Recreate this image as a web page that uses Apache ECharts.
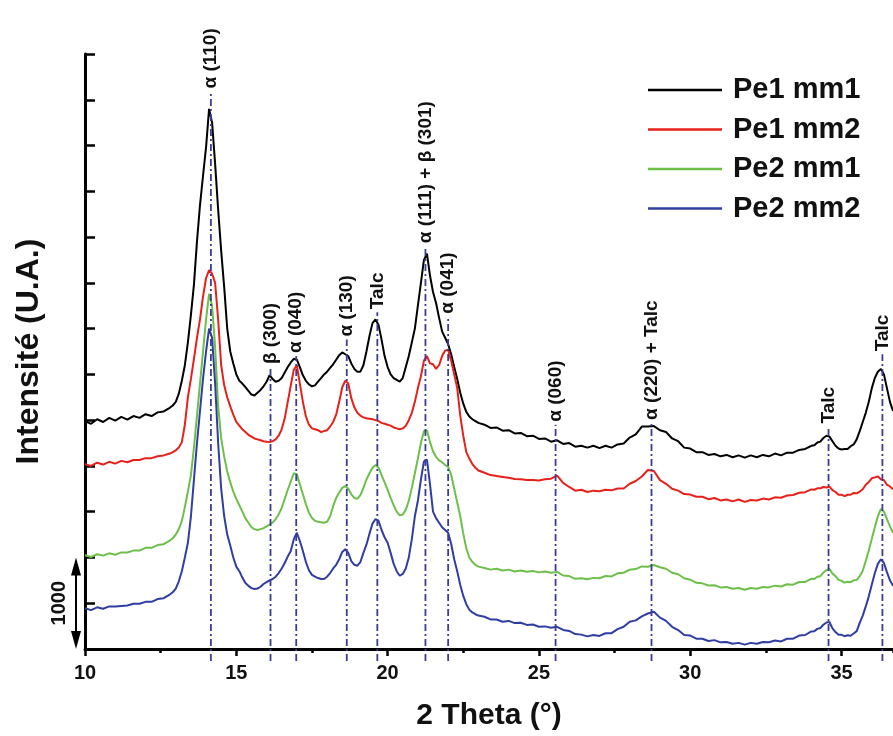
<!DOCTYPE html>
<html><head><meta charset="utf-8">
<script src="https://cdn.jsdelivr.net/npm/echarts@6/dist/echarts.min.js"></script>
<style>html,body{margin:0;padding:0;background:#fff}#c{width:893px;height:736px}</style>
</head><body><div id="c"></div>
<script>
// 2-theta grid (degrees)
const theta = [
 10.0,10.2,10.4,10.6,10.8,11.0,11.2,11.4,11.6,11.8,
 12.0,12.2,12.4,12.6,12.8,
 12.9,13.0,13.1,13.2,13.3,13.4,13.5,13.6,13.7,13.8,
 13.9,14.0,14.1,14.2,14.3,14.4,14.5,14.6,14.7,14.8,
 14.9,15.0,15.1,15.2,15.3,15.4,15.5,15.6,15.7,15.8,
 15.9,16.0,16.1,16.2,16.3,16.4,16.5,16.6,16.7,16.8,
 16.9,17.0,17.1,17.2,17.3,17.4,17.5,17.6,17.7,17.8,
 17.9,18.0,18.1,18.2,18.3,18.4,18.5,18.6,18.7,18.8,
 18.9,19.0,19.1,19.2,19.3,19.4,19.5,19.6,19.7,19.8,
 19.9,20.0,20.1,20.2,20.3,20.4,20.5,20.6,20.7,20.8,
 20.9,21.0,21.1,21.2,21.3,21.4,21.5,21.6,21.7,21.8,
 21.9,22.0,22.1,22.2,22.3,22.4,22.5,22.6,22.7,22.8,
 22.9,23.0,
 23.2,23.4,23.6,23.8,24.0,24.2,24.4,24.6,24.8,25.0,
 25.2,25.4,25.6,25.8,26.0,26.2,26.4,26.6,26.8,27.0,
 27.2,27.4,27.6,27.8,28.0,28.2,28.4,28.6,28.8,29.0,
 29.2,29.4,29.6,29.8,30.0,30.2,30.4,30.6,30.8,31.0,
 31.2,31.4,31.6,31.8,32.0,32.2,32.4,32.6,32.8,33.0,
 33.2,33.4,33.6,33.8,34.0,
 34.1,34.2,34.3,34.4,34.5,34.6,34.7,34.8,34.9,35.0,
 35.1,35.2,35.3,35.4,35.5,35.6,35.7,35.8,35.9,36.0,
 36.1,36.2,36.3,36.4,36.5,36.6,36.7
];
const pe1mm1 = [
 2490,2460,2510,2480,2525,2495,2535,2505,2545,2525,
 2565,2545,2585,2595,2635,
 2660,2700,2790,2930,3100,3350,3650,3980,4450,4850,
 5170,5480,5900,5750,5300,4800,4350,3950,3500,3250,
 3120,3000,2930,2900,2860,2820,2780,2770,2800,2830,
 2870,2920,2990,2950,2920,2930,2960,3020,3080,3130,
 3170,3160,3080,2990,2930,2890,2870,2880,2920,2960,
 3000,3030,3070,3110,3160,3210,3240,3220,3200,3120,
 3060,3030,3030,3100,3250,3420,3560,3600,3540,3380,
 3200,3080,3000,2960,2940,2920,2960,3080,3200,3350,
 3500,3750,4000,4250,4320,4080,3900,3780,3620,3470,
 3400,3330,3220,3080,2950,2800,2680,2590,2540,2510,
 2490,2470,
 2450,2415,2420,2385,2390,2355,2360,2325,2330,2295,
 2300,2265,2280,2240,2250,2210,2220,2200,2220,2195,
 2220,2200,2235,2245,2310,2345,2430,2430,2435,2390,
 2370,2300,2270,2200,2190,2150,2150,2120,2130,2105,
 2120,2095,2115,2090,2115,2095,2120,2105,2135,2115,
 2145,2145,2175,2185,2220,
 2225,2255,2265,2305,2330,2320,2270,2220,2190,2180,
 2185,2185,2215,2235,2290,2380,2480,2580,2700,2850,
 2960,3030,3060,3000,2850,2700,2600
];
const pe1mm2 = [
 2020,2000,2035,2015,2045,2025,2055,2040,2065,2065,
 2085,2085,2105,2115,2135,
 2150,2170,2200,2260,2450,2750,2950,3170,3400,3600,
 3850,4050,4140,4100,4000,3600,3100,2880,2750,2650,
 2560,2480,2440,2400,2370,2340,2320,2300,2290,2280,
 2270,2265,2260,2270,2290,2330,2400,2520,2700,2880,
 3050,3100,2900,2700,2540,2450,2410,2400,2390,2370,
 2380,2390,2430,2480,2560,2700,2860,2930,2900,2740,
 2640,2580,2550,2530,2520,2515,2510,2500,2490,2470,
 2460,2450,2440,2420,2410,2400,2410,2440,2500,2580,
 2700,2850,2980,3150,3200,3120,3110,3060,3100,3200,
 3260,3270,3150,3000,2850,2550,2330,2150,2080,2020,
 1980,1950,
 1925,1900,1890,1880,1870,1857,1855,1847,1845,1840,
 1855,1860,1895,1815,1770,1730,1740,1715,1730,1723,
 1740,1733,1753,1753,1805,1835,1885,1955,1945,1845,
 1805,1750,1730,1693,1687,1663,1663,1637,1649,1623,
 1633,1613,1633,1607,1627,1623,1643,1633,1657,1653,
 1677,1683,1707,1713,1743,
 1740,1755,1755,1770,1765,1775,1735,1715,1685,1685,
 1670,1685,1685,1705,1700,1720,1745,1795,1825,1865,
 1875,1885,1855,1845,1795,1775,1745
];
const pe2mm1 = [
 1025,1005,1035,1020,1045,1030,1055,1055,1075,1075,
 1105,1105,1135,1145,1185,
 1210,1250,1310,1400,1550,1720,1900,2200,2550,2900,
 3250,3600,3880,3750,3300,2650,2300,2100,1940,1820,
 1720,1640,1570,1500,1430,1380,1330,1310,1300,1310,
 1320,1340,1360,1380,1420,1470,1540,1640,1740,1830,
 1920,1910,1800,1690,1580,1490,1430,1400,1390,1385,
 1380,1390,1450,1560,1650,1710,1760,1780,1750,1690,
 1650,1640,1680,1760,1850,1920,1980,2010,1980,1900,
 1820,1740,1650,1570,1500,1460,1470,1520,1620,1760,
 1920,2080,2250,2380,2390,2260,2160,2100,2060,2040,
 2010,1990,1900,1750,1600,1450,1260,1100,1000,950,
 920,900,
 885,867,877,857,867,847,857,843,852,837,
 847,833,842,803,797,767,772,763,777,773,
 797,793,827,833,867,873,902,898,917,893,
 877,833,817,773,757,723,717,693,697,673,
 677,658,667,648,667,658,677,673,692,683,
 707,703,732,733,767,
 765,790,795,835,860,875,825,795,755,745,
 725,735,730,750,755,795,855,965,1075,1205,
 1330,1450,1530,1500,1420,1340,1270
];
const pe2mm2 = [
 445,425,455,440,465,465,470,475,495,495,
 515,515,545,555,595,
 620,660,740,850,1000,1160,1450,1850,2250,2600,
 2950,3250,3500,3400,2900,2250,1750,1450,1250,1130,
 1000,900,850,780,720,690,665,655,660,680,
 710,730,750,765,790,830,880,940,1010,1070,
 1200,1270,1180,1070,950,860,810,790,775,765,
 765,790,830,880,920,980,1060,1090,1050,960,
 920,910,950,1050,1140,1260,1370,1420,1400,1300,
 1220,1160,1050,930,850,800,820,880,1000,1200,
 1450,1620,1850,2050,2070,1800,1500,1430,1380,1330,
 1300,1270,1150,980,850,700,580,490,430,400,
 380,365,
 352,323,322,298,307,283,287,263,267,243,
 247,233,242,208,197,163,157,138,152,143,
 172,173,217,243,297,313,357,388,407,343,
 307,243,207,153,147,113,112,88,97,73,
 77,58,67,48,67,58,77,73,92,83,
 112,113,147,153,192,
 195,220,230,265,290,295,225,185,155,155,
 140,150,145,170,195,285,365,465,575,705,
 830,930,980,940,840,750,690
];
const seriesNames = ['Pe1 mm1', 'Pe1 mm2', 'Pe2 mm1', 'Pe2 mm2'];
const seriesValues = [pe1mm1, pe1mm2, pe2mm1, pe2mm2];
const seriesColors = ['#000000', '#e8201a', '#6cc04a', '#2f3ea0'];

// x axis range and ticks
const xMin = 10, xMax = 36.7, xMajor = 5, xMinor = 2.5;

// peak reflections
const peakTheta  = [14.16, 16.13, 16.98, 18.65, 19.66, 21.25, 22.0, 25.55, 28.72, 34.57, 36.35];
const peakLabels = ['α (110)', 'β (300)', 'α (040)', 'α (130)', 'Talc', 'α (111) + β (301)', 'α (041)', 'α (060)', 'α (220) + Talc', 'Talc', 'Talc'];
const peakTop    = [6090, 3080, 3200, 3380, 3680, 4400, 3630, 2450, 2470, 2430, 3220];

// scale bar (intensity units)
const scaleBar = [0, 1000];
const scaleLabel = '1000';

const FONT = "'Liberation Sans', Arial, sans-serif";
const LINE_BOTTOM = -130;

const chart = echarts.init(document.getElementById('c'), null, {renderer: 'canvas'});

function renderPeak(params, api) {
  const x = api.value(0), top = api.value(1);
  const p0 = api.coord([x, LINE_BOTTOM]);
  const p1 = api.coord([x, top]);
  return {
    type: 'group',
    children: [
      {type: 'line', shape: {x1: p0[0], y1: p0[1], x2: p1[0], y2: p1[1]},
       style: {stroke: '#3c3c96', lineWidth: 1.8, lineDash: [7, 3, 2, 3]}},
      {type: 'text', x: p1[0], y: p1[1] - 3, rotation: Math.PI / 2,
       style: {text: peakLabels[params.dataIndex], fontSize: 19, fontWeight: 'bold', fontFamily: FONT,
               fill: '#111', align: 'left', verticalAlign: 'middle'}}
    ]
  };
}

const series = seriesNames.map((n, k) => ({
  name: n, type: 'line', showSymbol: false, symbol: 'none',
  data: theta.map((t, i) => [t, seriesValues[k][i]]),
  lineStyle: {color: seriesColors[k], width: 2},
  itemStyle: {color: seriesColors[k]},
  z: 2
}));
series.push({
  type: 'custom', renderItem: renderPeak, clip: false, silent: true, z: 5,
  data: peakTheta.map((t, i) => [t, peakTop[i]]),
  encode: {x: 0, y: 1}
});

chart.setOption({
  animation: false,
  backgroundColor: '#ffffff',
  grid: {left: 85, right: 0, top: 54, bottom: 86},
  legend: {
    orient: 'vertical', left: 643, top: 70,
    data: seriesNames, icon: 'rect', itemWidth: 74, itemHeight: 2.5, itemGap: 9.5,
    textStyle: {fontSize: 29, fontWeight: 'bold', color: '#111', fontFamily: FONT, lineHeight: 30, padding: [0, 0, 0, 6]}
  },
  xAxis: [{
    type: 'value', min: xMin, max: xMax, interval: xMajor,
    name: '2 Theta (°)', nameLocation: 'middle', nameGap: 52,
    nameTextStyle: {fontSize: 30, fontWeight: 'bold', color: '#111', fontFamily: FONT},
    axisLine: {show: true, lineStyle: {color: '#000', width: 3}},
    axisTick: {show: true, inside: false, length: 7, lineStyle: {color: '#000', width: 2.5}},
    splitLine: {show: false},
    axisLabel: {fontSize: 20, fontWeight: 'bold', color: '#111', fontFamily: FONT, margin: 14, showMaxLabel: false}
  }, {
    type: 'value', min: xMin, max: xMax, interval: xMinor, position: 'bottom',
    axisLine: {show: false},
    axisTick: {show: true, inside: false, length: 4, lineStyle: {color: '#000', width: 2.5}},
    splitLine: {show: false},
    axisLabel: {show: false}
  }],
  yAxis: {
    type: 'value', min: 0, max: 6500, interval: 500,
    name: 'Intensité (U.A.)', nameLocation: 'middle', nameGap: 40, nameRotate: 90,
    nameTextStyle: {fontSize: 32, fontWeight: 'bold', color: '#111', fontFamily: FONT},
    axisLine: {show: true, lineStyle: {color: '#000', width: 3}},
    axisTick: {show: true, inside: true, length: 10, lineStyle: {color: '#000', width: 2.5}},
    axisLabel: {show: false},
    splitLine: {show: false}
  },
  series: series
});

const pTop = chart.convertToPixel({gridIndex: 0}, [xMin, scaleBar[1]]);
const pBot = chart.convertToPixel({gridIndex: 0}, [xMin, scaleBar[0]]);
const ax = pTop[0] - 9;
chart.setOption({
  graphic: [
    {type: 'line', shape: {x1: ax, y1: pTop[1] + 14, x2: ax, y2: pBot[1] - 14}, style: {stroke: '#000', lineWidth: 2}},
    {type: 'polygon', shape: {points: [[ax, pTop[1]], [ax - 5, pTop[1] + 18], [ax + 5, pTop[1] + 18]]}, style: {fill: '#000'}},
    {type: 'polygon', shape: {points: [[ax, pBot[1]], [ax - 5, pBot[1] - 18], [ax + 5, pBot[1] - 18]]}, style: {fill: '#000'}},
    {type: 'text', x: ax - 17, y: (pTop[1] + pBot[1]) / 2, rotation: Math.PI / 2,
     style: {text: scaleLabel, fontSize: 20, fontWeight: 'bold', fontFamily: FONT, fill: '#111', align: 'center', verticalAlign: 'middle'}}
  ]
});
</script>
</body></html>
